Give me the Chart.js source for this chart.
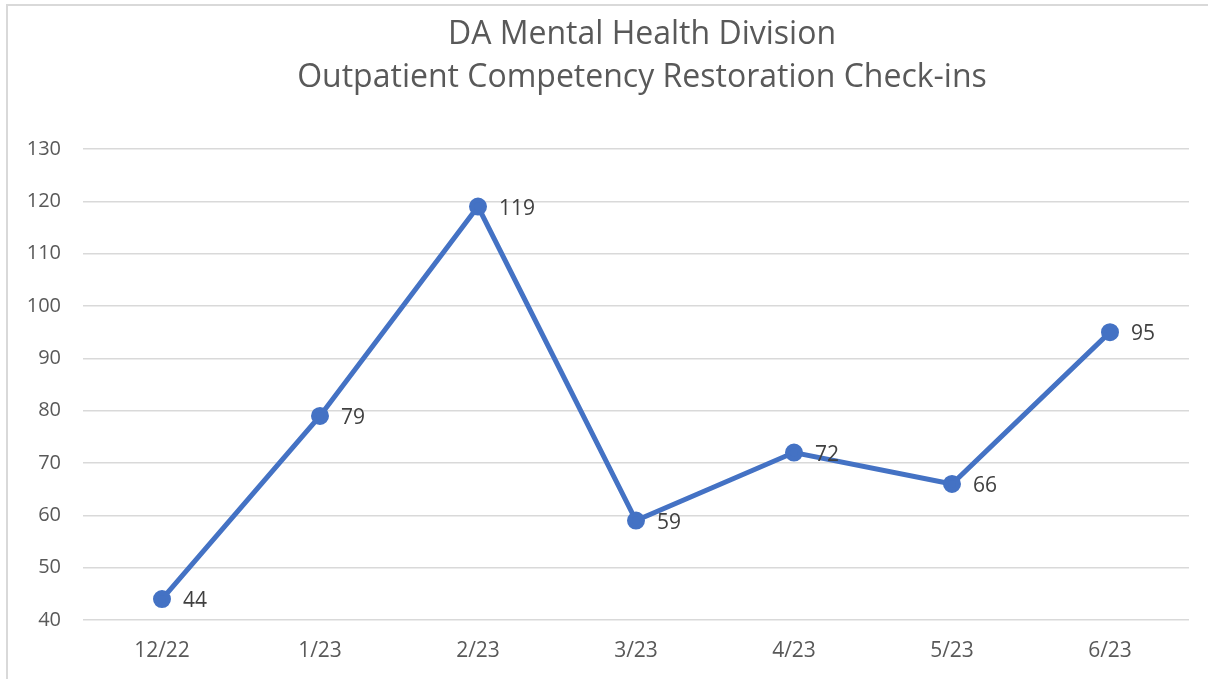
<!DOCTYPE html>
<html>
<head>
<meta charset="utf-8">
<script src="https://cdn.jsdelivr.net/npm/chart.js@4/dist/chart.umd.min.js"></script>
<style>
  html, body { margin: 0; padding: 0; background: #fff; }
  #frame { position: absolute; left: 6px; top: 4px; width: 1300px; height: 800px;
           border-left: 2px solid #d9d9d9; border-top: 2px solid #d9d9d9; box-sizing: border-box; }
  #wrap { position: absolute; left: 0; top: 0; width: 1208px; height: 679px; }
</style>
</head>
<body>
<div id="frame"></div>
<div id="wrap"><canvas id="c" width="1208" height="679"></canvas></div>
<script>
const titleLines = ["DA Mental Health Division", "Outpatient Competency Restoration Check-ins"];
const categories = ["12/22", "1/23", "2/23", "3/23", "4/23", "5/23", "6/23"];
const checkIns = [44, 79, 119, 59, 72, 66, 95];
const yMin = 40, yMax = 130, yStep = 10;

const FONT = "'Open Sans', 'Liberation Sans', sans-serif";

const labelPlugin = {
  id: 'pointLabels',
  afterDatasetsDraw(chart) {
    const ctx = chart.ctx;
    const meta = chart.getDatasetMeta(0);
    ctx.save();
    ctx.font = "21px " + FONT;
    ctx.fillStyle = "#404040";
    ctx.textAlign = "left";
    ctx.textBaseline = "middle";
    meta.data.forEach((pt, i) => {
      ctx.fillText(String(chart.data.datasets[0].data[i]), pt.x + 21, pt.y + 2);
    });
    ctx.restore();
  }
};

const titlePlugin = {
  id: 'centeredTitle',
  afterDraw(chart) {
    const ctx = chart.ctx;
    ctx.save();
    ctx.font = "32px " + FONT;
    ctx.fillStyle = "#595959";
    ctx.textAlign = "center";
    ctx.textBaseline = "middle";
    ctx.fillText(titleLines[0], 642, 35);
    ctx.fillText(titleLines[1], 642, 78);
    ctx.restore();
  }
};

new Chart(document.getElementById('c'), {
  type: 'line',
  data: {
    labels: categories,
    datasets: [{
      data: checkIns,
      borderColor: '#4472C4',
      backgroundColor: '#4472C4',
      borderWidth: 5,
      pointRadius: 6.5,
      pointHoverRadius: 6.5,
      pointBackgroundColor: '#4472C4',
      pointBorderColor: '#4472C4',
      tension: 0
    }]
  },
  options: {
    responsive: false,
    animation: false,
    layout: { padding: { left: 0, right: 19, top: 149, bottom: 0 } },
    plugins: {
      legend: { display: false },
      tooltip: { enabled: false },
      title: { display: false }
    },
    scales: {
      x: {
        type: 'category',
        offset: true,
        grid: { display: false, drawTicks: false },
        border: { display: false },
        ticks: { color: '#595959', font: { family: FONT, size: 21 }, padding: 18, maxRotation: 0 },
        afterFit(scale) { scale.height = 59; }
      },
      y: {
        min: yMin, max: yMax,
        grid: { color: '#d9d9d9', lineWidth: 1.5, drawTicks: false },
        border: { display: false },
        ticks: { stepSize: yStep, color: '#595959', font: { family: FONT, size: 20 }, padding: 22 },
        afterFit(scale) { scale.width = 83; }
      }
    }
  },
  plugins: [labelPlugin, titlePlugin]
});
</script>
</body>
</html>
